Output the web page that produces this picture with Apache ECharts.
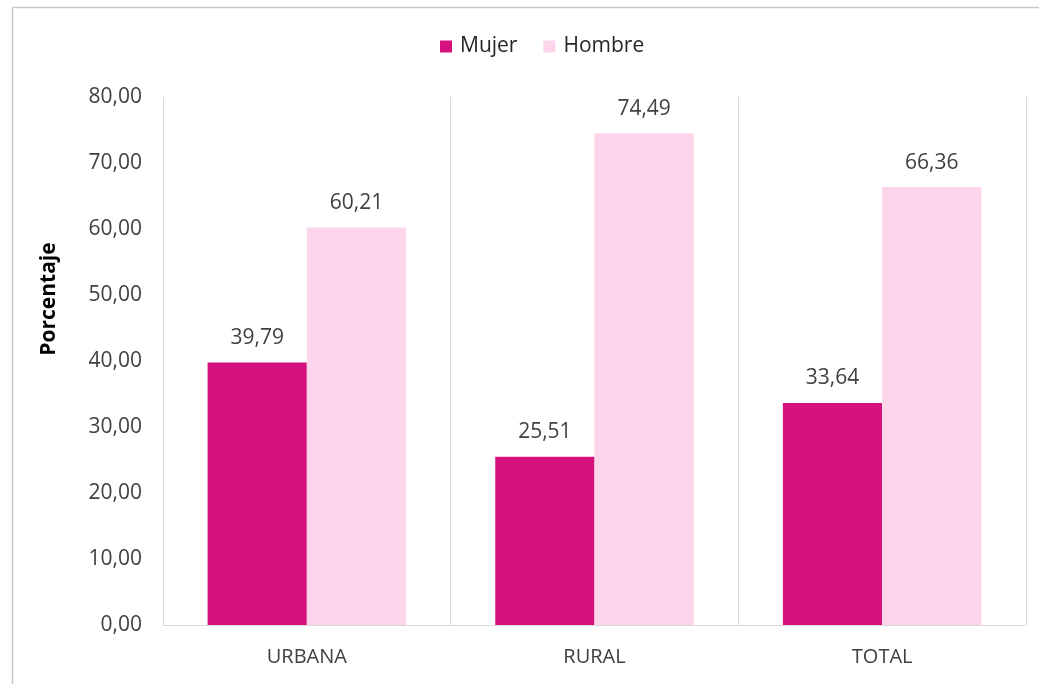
<!DOCTYPE html>
<html><head><meta charset="utf-8">
<script src="https://cdn.jsdelivr.net/npm/echarts@6/dist/echarts.min.js"></script>
<style>html,body{margin:0;padding:0;background:#fff}#c{width:1039px;height:684px}</style>
</head><body><div id="c"></div>
<script>
const categories = ["URBANA", "RURAL", "TOTAL"];
const mujer = [39.79, 25.51, 33.64];
const hombre = [60.21, 74.49, 66.36];
const yTicks = { min: 0, max: 80, interval: 10 };
const yName = "Porcentaje";
const fmt = v => Number(v).toFixed(2).replace('.', ',');
const font = "'Open Sans', 'Liberation Sans', sans-serif";
const chart = echarts.init(document.getElementById('c'), null, { renderer: 'canvas' });
chart.setOption({
  animation: false,
  textStyle: { fontFamily: font },
  graphic: [
    { type: 'rect', shape: { x: 12.5, y: 7.5, width: 1100, height: 800 }, style: { fill: 'none', stroke: '#c9c9c9', lineWidth: 1.5 }, z: -1 },
    { type: 'text', x: 49, y: 299, rotation: Math.PI / 2,
      style: { text: yName, fontSize: 21, fontWeight: 'bold', fill: '#000', fontFamily: font, align: 'center', verticalAlign: 'middle' } }
  ],
  legend: {
    top: 31, left: 435, itemWidth: 12, itemHeight: 12, itemGap: 26,
    icon: 'rect',
    textStyle: { fontSize: 21, color: '#262626', fontFamily: font, padding: [0, 0, 0, 3] },
    data: ['Mujer', 'Hombre']
  },
  grid: { left: 163, right: 13, top: 97, bottom: 59, containLabel: false },
  xAxis: {
    type: 'category', data: categories,
    axisLine: { show: true, lineStyle: { color: '#d9d9d9', width: 1 } },
    axisTick: { show: false },
    splitLine: { show: true, lineStyle: { color: '#d9d9d9', width: 1 } },
    axisLabel: { fontSize: 20, color: '#404040', margin: 22, fontFamily: font }
  },
  yAxis: {
    type: 'value', min: yTicks.min, max: yTicks.max, interval: yTicks.interval,
    axisLine: { show: false }, axisTick: { show: false }, splitLine: { show: false },
    axisLabel: { fontSize: 21, color: '#404040', margin: 21, formatter: v => fmt(v), fontFamily: font }
  },
  series: [
    { name: 'Mujer', type: 'bar', data: mujer, barGap: '0%', barCategoryGap: '31%',
      itemStyle: { color: '#D5117E' },
      label: { show: true, position: 'top', distance: 14, fontSize: 21, color: '#404040', formatter: p => fmt(p.value), fontFamily: font } },
    { name: 'Hombre', type: 'bar', data: hombre, barGap: '0%', barCategoryGap: '31%',
      itemStyle: { color: '#FCD5EB' },
      label: { show: true, position: 'top', distance: 14, fontSize: 21, color: '#404040', formatter: p => fmt(p.value), fontFamily: font } }
  ]
});
</script></body></html>
